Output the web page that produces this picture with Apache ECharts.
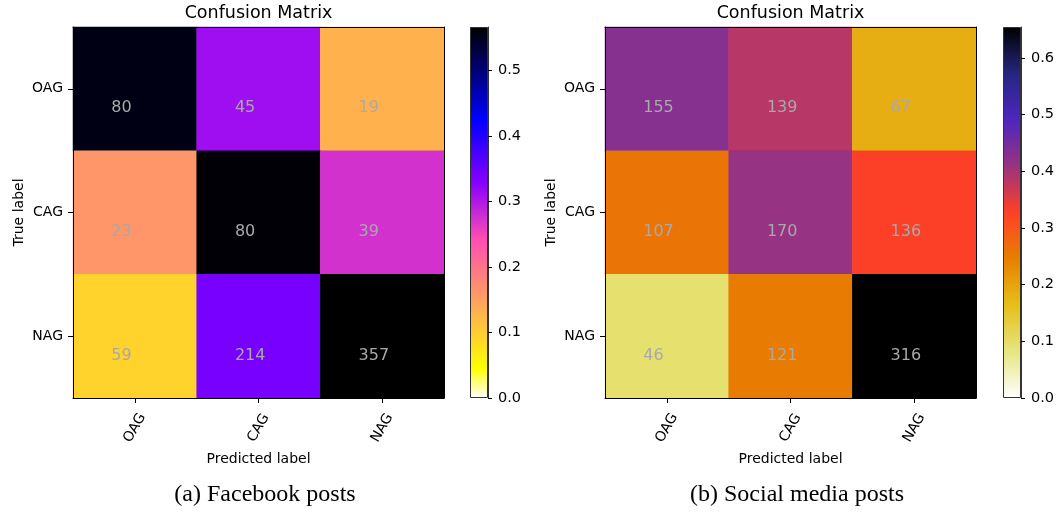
<!DOCTYPE html>
<html><head><meta charset="utf-8">
<script src="https://cdn.jsdelivr.net/npm/echarts@6/dist/echarts.min.js"></script>
<style>html,body{margin:0;padding:0;background:#fff}#c{width:1059px;height:513px}</style>
</head><body><div id="c"></div>
<script>
// ---------------- data ----------------
const categories = ['OAG', 'CAG', 'NAG'];
const facebookCounts = [[80, 45, 19], [23, 80, 39], [59, 214, 357]];
const socialCounts = [[155, 139, 67], [107, 170, 136], [46, 121, 316]];
const colorbarTicksA = [0, 0.1, 0.2, 0.3, 0.4, 0.5];
const colorbarTicksB = [0, 0.1, 0.2, 0.3, 0.4, 0.5, 0.6];
const panelTitle = 'Confusion Matrix';
const captionA = '(a) Facebook posts';
const captionB = '(b) Social media posts';
const xName = 'Predicted label';
const yName = 'True label';

// ---------------- colormaps ----------------
function clip(v) { return Math.max(0, Math.min(1, v)); }
function gnuplot2(t) {
  const r = clip(t / 0.32 - 0.78125), g = clip(2 * t - 0.84);
  let b; if (t < 0.25) b = 4 * t; else if (t < 0.92) b = -2 * t + 1.84; else b = t / 0.08 - 11.5;
  return [r, g, clip(b)];
}
function gnuplot2_r(s) { return gnuplot2(1 - s); }
const cmrStops = [[1,1,1],[0.9,0.9,0.5],[0.9,0.75,0.1],[0.9,0.5,0],[1,0.25,0.15],[0.6,0.2,0.5],[0.3,0.15,0.75],[0.15,0.15,0.5],[0,0,0]];
function cmr_r(s) {
  const p = s * 8, i = Math.min(7, Math.floor(p)), f = p - i;
  return [0,1,2].map(k => cmrStops[i][k] + (cmrStops[i+1][k] - cmrStops[i][k]) * f);
}
function rgb(c) { return 'rgb(' + c.map(v => Math.round(v * 255)).join(',') + ')'; }
function sampleMap(fn, n) { const a = []; for (let i = 0; i < n; i++) a.push(rgb(fn(i / (n - 1)))); return a; }
const colorsA = sampleMap(gnuplot2_r, 101);
const colorsB = sampleMap(cmr_r, 9);

function rowNormalize(m) { return m.map(r => { const s = r.reduce((a, b) => a + b, 0); return r.map(v => v / s); }); }
function toCells(counts) {
  const n = rowNormalize(counts), out = [];
  for (let i = 0; i < counts.length; i++) for (let j = 0; j < counts[i].length; j++) out.push([j, i, n[i][j], counts[i][j]]);
  return out;
}
const normA = rowNormalize(facebookCounts), normB = rowNormalize(socialCounts);
const vmaxA = Math.max(...normA.flat()), vmaxB = Math.max(...normB.flat());

// ---------------- layout ----------------
const FONT = 'DejaVu Sans';
const P = [
  { left: 73, top: 27, size: 371, cbLeft: 470, cbW: 18, capX: 265 },
  { left: 605, top: 27, size: 371, cbLeft: 1003, cbW: 18, capX: 797 }
];

const grids = [], xAxes = [], yAxes = [], series = [], visualMaps = [], titles = [];
function gradient(colors) {
  return new echarts.graphic.LinearGradient(0, 1, 0, 0, colors.map((c, k) => ({ offset: k / (colors.length - 1), color: c })));
}
function addPanel(p, counts, vmax, colors, ticks, caption) {
  const g0 = grids.length;
  grids.push({ left: p.left, top: p.top, width: p.size, height: p.size });
  grids.push({ left: p.cbLeft, top: p.top, width: p.cbW, height: p.size });
  const xa = xAxes.length, ya = yAxes.length;
  xAxes.push({
    type: 'category', data: categories, gridIndex: g0, position: 'bottom', z: 10,
    axisLine: { show: true, lineStyle: { color: '#000', width: 1 } },
    axisTick: { show: true, alignWithLabel: true, length: 5, lineStyle: { color: '#000' } },
    axisLabel: { interval: 0, rotate: 60, align: 'center', verticalAlign: 'middle', margin: 30, color: '#000', fontFamily: FONT, fontSize: 14 },
    name: xName, nameLocation: 'middle', nameGap: 48, nameTextStyle: { color: '#000', fontFamily: FONT, fontSize: 14 },
    splitLine: { show: false }
  });
  xAxes.push({
    type: 'category', data: categories, gridIndex: g0, position: 'top', z: 10,
    axisLine: { show: true, lineStyle: { color: '#000', width: 1 } }, axisTick: { show: false }, axisLabel: { show: false }
  });
  xAxes.push({ type: 'category', data: [''], gridIndex: g0 + 1, show: false });
  yAxes.push({
    type: 'category', data: categories, gridIndex: g0, position: 'left', inverse: true, z: 10,
    axisLine: { show: true, lineStyle: { color: '#000', width: 1 } },
    axisTick: { show: true, alignWithLabel: true, length: 5, lineStyle: { color: '#000' } },
    axisLabel: { interval: 0, margin: 10, color: '#000', fontFamily: FONT, fontSize: 14 },
    name: yName, nameLocation: 'middle', nameGap: 47, nameTextStyle: { color: '#000', fontFamily: FONT, fontSize: 14 },
    splitLine: { show: false }
  });
  yAxes.push({
    type: 'category', data: categories, gridIndex: g0, position: 'right', inverse: true, z: 10,
    axisLine: { show: true, lineStyle: { color: '#000', width: 1 } }, axisTick: { show: false }, axisLabel: { show: false }
  });
  yAxes.push({
    type: 'value', gridIndex: g0 + 1, position: 'right', min: 0, max: vmax, z: 10,
    axisLine: { show: true, lineStyle: { color: '#333', width: 1 } },
    axisTick: { show: true, length: 4, customValues: ticks, lineStyle: { color: '#000' } },
    axisLabel: { customValues: ticks, margin: 10, color: '#000', fontFamily: FONT, fontSize: 14.5, formatter: v => v.toFixed(1) },
    splitLine: { show: false }
  });
  const sIdx = series.length;
  series.push({
    type: 'heatmap', xAxisIndex: xa, yAxisIndex: ya, data: toCells(counts),
    itemStyle: { borderWidth: 0 },
    emphasis: { disabled: true },
    label: {
      show: true, formatter: q => String(q.data[3]), position: ['31%', '65.5%'], align: 'left', verticalAlign: 'middle',
      color: '#a9a9a9', fontFamily: FONT, fontSize: 16
    }
  });
  series.push({
    type: 'bar', xAxisIndex: xa + 2, yAxisIndex: ya + 2, data: [vmax], barWidth: '100%', silent: true,
    itemStyle: { color: gradient(colors), borderColor: '#333', borderWidth: 1 }
  });
  visualMaps.push({ type: 'continuous', show: false, seriesIndex: sIdx, dimension: 2, min: 0, max: vmax, inRange: { color: colors } });
  titles.push({ text: panelTitle, left: p.left + p.size / 2, top: 4, padding: 0, textAlign: 'center',
    textStyle: { fontFamily: FONT, fontSize: 17.5, fontWeight: 'normal', color: '#000' } });
  titles.push({ text: caption, left: p.capX, top: 483, padding: 0, textAlign: 'center',
    textStyle: { fontFamily: 'Liberation Serif', fontSize: 24, fontWeight: 'normal', color: '#000' } });
}
addPanel(P[0], facebookCounts, vmaxA, colorsA, colorbarTicksA, captionA);
addPanel(P[1], socialCounts, vmaxB, colorsB, colorbarTicksB, captionB);

const chart = echarts.init(document.getElementById('c'), null, { renderer: 'canvas' });
chart.setOption({
  animation: false,
  backgroundColor: '#fff',
  title: titles, grid: grids, xAxis: xAxes, yAxis: yAxes, visualMap: visualMaps, series: series
});
</script></body></html>
